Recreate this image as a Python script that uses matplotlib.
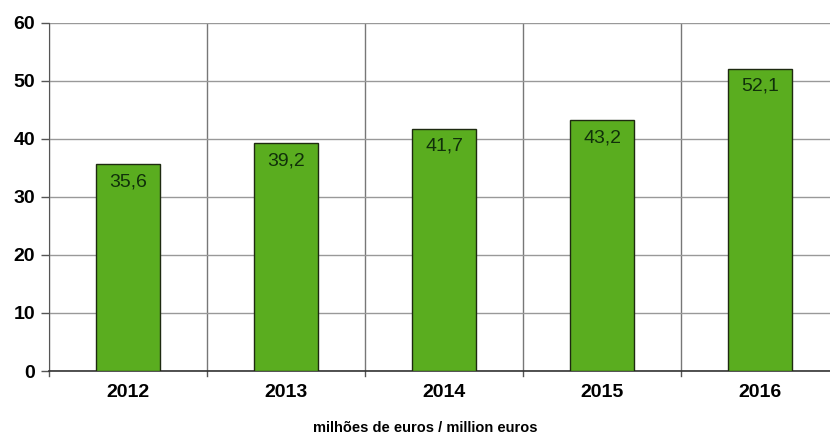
import matplotlib
matplotlib.use("Agg")
import matplotlib.pyplot as plt

years = ["2012", "2013", "2014", "2015", "2016"]
values = [35.6, 39.2, 41.7, 43.2, 52.1]
labels = ["35,6", "39,2", "41,7", "43,2", "52,1"]
yticks = [0, 10, 20, 30, 40, 50, 60]

plt.rcParams['font.family'] = ['Liberation Sans', 'DejaVu Sans']

fig = plt.figure(figsize=(8.3, 4.36), dpi=100)
ax = fig.add_axes([49/830, 65/436, 1 - 49/830, (371-22.7)/436])

x = list(range(len(years)))
ax.bar(x, values, width=0.405, color='#5aad1f', edgecolor='#1e2a10', linewidth=1.0, zorder=3)

for xi, v, lab in zip(x, values, labels):
    ax.annotate(lab, (xi, v), xytext=(0, -6.5), textcoords='offset points',
                ha='center', va='top', fontsize=14, color='#10300a', zorder=4)

ax.set_ylim(0, 60)
ax.set_yticks(yticks)
ax.set_yticklabels([str(t) for t in yticks], fontsize=14, fontweight='bold')
ax.set_xlim(-0.5, -0.5 + 781/158)
ax.set_xticks(x)
ax.set_xticklabels(years, fontsize=14, fontweight='bold')
ax.tick_params(axis='x', length=0, pad=9)
ax.tick_params(axis='y', length=6, width=1, color='#555555', pad=4)

# vertical category separators with ticks below
for b in [i + 0.5 for i in range(-1, 5)]:
    ax.axvline(b, color='#777777', linewidth=1, zorder=1)
    ax.plot([b, b], [0, -0.9], color='#555555', linewidth=1, clip_on=False)

ax.yaxis.grid(True, color='#999999', linewidth=1, zorder=1)
for s in ['top', 'right']:
    ax.spines[s].set_visible(False)
ax.spines['left'].set_color('#555555')
ax.spines['bottom'].set_color('#333333')
ax.spines['bottom'].set_linewidth(1.2)

fig.text(425 / 830, (436 - 428) / 436, "milhões de euros / million euros",
         ha='center', va='center', fontsize=10.5, fontweight='bold')

fig.savefig("out.png", dpi=100)
